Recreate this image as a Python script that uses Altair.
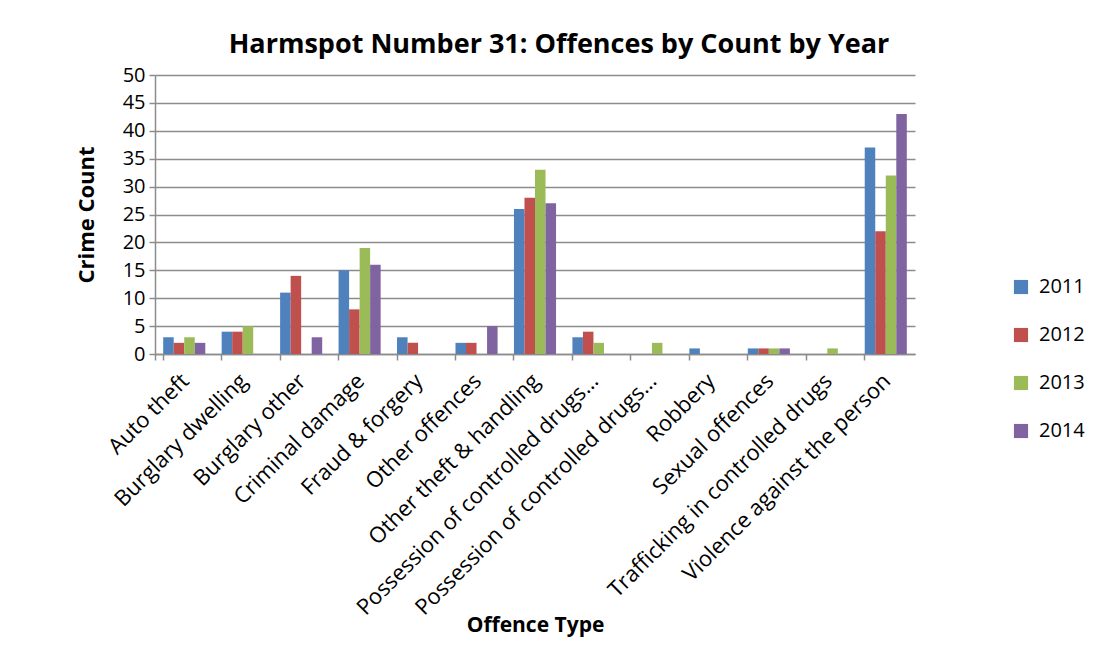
import altair as alt
import pandas as pd

categories = [
    "Auto theft",
    "Burglary dwelling",
    "Burglary other",
    "Criminal damage",
    "Fraud & forgery",
    "Other offences",
    "Other theft & handling",
    "Possession of controlled drugs (cannabis)",
    "Possession of controlled drugs (excl. cannabis)",
    "Robbery",
    "Sexual offences",
    "Trafficking in controlled drugs",
    "Violence against the person",
]
years = ["2011", "2012", "2013", "2014"]
v2011 = [3, 4, 11, 15, 3, 2, 26, 3, 0, 1, 1, 0, 37]
v2012 = [2, 4, 14, 8, 2, 2, 28, 4, 0, 0, 1, 0, 22]
v2013 = [3, 5, 0, 19, 0, 0, 33, 2, 2, 0, 1, 1, 32]
v2014 = [2, 0, 3, 16, 0, 5, 27, 0, 0, 0, 1, 0, 43]
colors = ["#4F81BD", "#C0504D", "#9BBB59", "#8064A2"]

rows = []
for y, vals in zip(years, [v2011, v2012, v2013, v2014]):
    for c, v in zip(categories, vals):
        rows.append({"Offence": c, "Year": y, "Count": v})
df = pd.DataFrame(rows)

FONT = "Open Sans"
GRID = "#8C8C8C"

chart = alt.Chart(df).mark_bar().encode(
    x=alt.X(
        "Offence:N",
        sort=categories,
        scale=alt.Scale(paddingInner=0.28, paddingOuter=0.14),
        axis=alt.Axis(
            title="Offence Type",
            labelAngle=-45,
            labelAlign="right",
            labelBaseline="top",
            labelFont=FONT,
            labelFontSize=22,
            labelColor="#000000",
            labelPadding=10,
            labelOffset=-6,
            labelLimit=500,
            labelExpr="indexof(datum.label, 'Possession') == 0 ? substring(datum.label, 0, 30) + '…' : datum.label",
            titleFont=FONT,
            titleFontSize=21,
            titleFontWeight="bold",
            titleColor="#000000",
            titleBaseline="middle",
            titleY=271,
            domainColor=GRID,
            domainWidth=1.5,
            tickColor=GRID,
            tickWidth=1.5,
            tickSize=6,
            bandPosition=0,
            tickExtra=True,
            grid=False,
        ),
    ),
    xOffset=alt.XOffset("Year:N", sort=years, scale=alt.Scale(paddingInner=0, paddingOuter=0)),
    y=alt.Y(
        "Count:Q",
        scale=alt.Scale(domain=[0, 50]),
        axis=alt.Axis(
            title="Crime Count",
            values=[0, 5, 10, 15, 20, 25, 30, 35, 40, 45, 50],
            labelFont=FONT,
            labelFontSize=20,
            labelColor="#000000",
            labelPadding=4,
            titleFont=FONT,
            titleFontSize=22,
            titleFontWeight="bold",
            titleColor="#000000",
            titlePadding=24,
            domainColor=GRID,
            domainWidth=1.5,
            tickColor=GRID,
            tickWidth=1.5,
            tickSize=6,
            gridColor=GRID,
            gridWidth=1.5,
        ),
    ),
    color=alt.Color(
        "Year:N",
        sort=years,
        scale=alt.Scale(domain=years, range=colors),
        legend=alt.Legend(
            title=None,
            orient="none",
            legendX=856,
            legendY=202,
            symbolType="square",
            symbolSize=200,
            symbolStrokeWidth=0,
            labelFont=FONT,
            labelFontSize=20,
            labelColor="#000000",
            labelOffset=8,
            rowPadding=28,
            padding=0,
        ),
    ),
).properties(
    width=760,
    height=279,
    title=alt.TitleParams(
        "Harmspot Number 31: Offences by Count by Year",
        font=FONT,
        fontSize=27,
        fontWeight="bold",
        color="#000000",
        anchor="middle",
        dx=24,
        offset=6,
    ),
    padding={"left": 147, "top": 67, "right": 184, "bottom": 286},
    autosize=alt.AutoSizeParams(type="none"),
).configure_view(stroke=None)

chart.save("out.html", embed_options={"renderer": "svg", "actions": False})
